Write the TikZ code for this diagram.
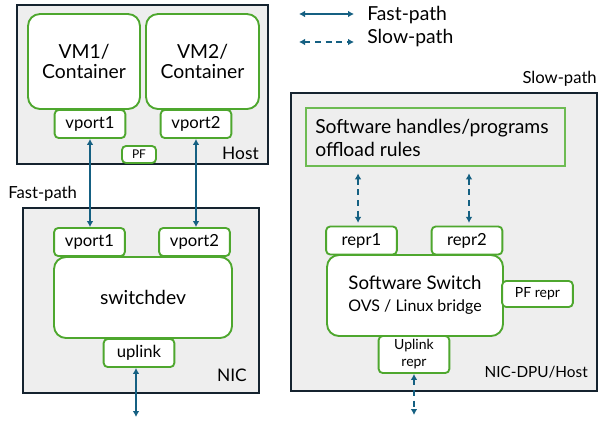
\documentclass[tikz,border=0pt]{standalone}
\usepackage{fontspec}
\setmainfont{Lato}
\usetikzlibrary{arrows.meta}

\definecolor{boxgray}{HTML}{EEEEEE}
\definecolor{edgenavy}{HTML}{15232F}
\definecolor{portgreen}{HTML}{4EA72E}
\definecolor{rulegreen}{HTML}{6DBB52}
\definecolor{pathblue}{HTML}{156082}

\begin{document}
\begin{tikzpicture}[%
        x = 0.75pt, y = -0.75pt,
        > = {Latex[length = 4.5pt, width = 5pt]},
        area/.style = {%
            draw = edgenavy, fill = boxgray,
            line width = 1.5pt, inner sep = 0pt
        },
        guest/.style = {%
            draw = portgreen, fill = white, line width = 1.4pt,
            rounded corners = 9pt, align = center, inner sep = 0pt
        },
        port/.style = {%
            draw = portgreen, fill = white, line width = 1.4pt,
            rounded corners = 3pt, inner sep = 0pt,
            minimum width = 53pt, minimum height = 21pt,
            font = \fontsize{12.5}{14}\selectfont
        },
        tag/.style = {inner sep = 0pt, font = \fontsize{13}{15}\selectfont},
        fast/.style = {<->, draw = pathblue, line width = 1.2pt},
        slow/.style = {fast, dash pattern = on 4.5pt off 3.5pt}
    ]
        \useasboundingbox (0, 0) rectangle (599, 422);

        % Outer boxes.
        \node[area, minimum width = 188.25pt, minimum height = 119.25pt] (host) at (142.5, 84.5) {};
        \node[area, minimum width = 177pt, minimum height = 138.75pt] (nic) at (141, 300.5) {};
        \node[area, minimum width = 229.5pt, minimum height = 223.5pt] (dpu) at (444, 242) {};

        % Host side:
        \node[guest, minimum width = 84pt, minimum height = 71.25pt,
              font = \fontsize{14.5}{14.6}\selectfont] (vm1) at (84, 61.5) {VM1/\\Container};
        \node[guest, minimum width = 84.75pt, minimum height = 71.25pt,
              font = \fontsize{14.5}{14.6}\selectfont] (vm2) at (202.5, 61.5) {VM2/\\Container};
        \node[port] (hvport1) at (90, 124) {vport1};
        \node[port] (hvport2) at (196, 124) {vport2};
        \node[port, minimum width = 25.5pt, minimum height = 12.75pt,
              font = \fontsize{9}{10}\selectfont] (pf) at (139, 154.5) {PF};
        \node[tag, anchor = base east] (hostname) at (259, 159) {Host};

        % NIC side:
        \node[guest, minimum width = 133.5pt, minimum height = 60.75pt,
              font = \fontsize{14.5}{16}\selectfont] (switchdev) at (143, 297.5) {switchdev};
        \node[port] (nvport1) at (89.5, 242) {vport1};
        \node[port] (nvport2) at (194.5, 242) {vport2};
        \node[port] (uplink) at (139, 353) {uplink};
        \node[tag, anchor = base east] (nicname) at (247, 381) {NIC};
        \node[tag, anchor = base west, font = \fontsize{12.5}{14}\selectfont] (fastname) at (8, 198) {Fast-path};

        % DPU side:
        \node[draw = rulegreen, fill = boxgray, line width = 1pt,
              minimum width = 194.25pt, minimum height = 43.5pt] (rules) at (435.5, 137) {};
        \node[tag, anchor = west, align = left,
              font = \fontsize{14.5}{17.25}\selectfont] (rulestext) at (315, 137.5)
            {Software handles/programs\\offload rules};
        \node[guest, minimum width = 132pt, minimum height = 60.75pt,
              font = \fontsize{14}{16.5}\selectfont] (swswitch) at (415, 295.5)
            {Software Switch\\{\fontsize{12}{13}\selectfont OVS / Linux bridge}};
        \node[port] (repr1) at (361.5, 240.5) {repr1};
        \node[port] (repr2) at (467, 240.5) {repr2};
        \node[port, minimum height = 19.5pt, font = \fontsize{10.5}{12}\selectfont] (pfrepr) at (537.5, 294) {PF repr};
        \node[port, minimum height = 27.75pt, align = center,
              font = \fontsize{10.5}{12.75}\selectfont] (uplinkrepr) at (414, 354.5) {Uplink\\repr};
        \node[tag, anchor = base east, font = \fontsize{11.5}{13}\selectfont] (dpuname) at (588, 377) {NIC-DPU/Host};
        \node[tag, anchor = base east, font = \fontsize{12.5}{14}\selectfont] (slowname) at (597, 83) {Slow-path};

        % Fast-path links.
        \coordinate (nicwire) at (136, 417);
        \draw[fast] (hvport1.south) to (hvport1.south |- nvport1.north);
        \draw[fast] (hvport2.south) to (hvport2.south |- nvport2.north);
        \draw[fast] (uplink.south -| nicwire) to (nicwire);

        % Slow-path links.
        \coordinate (dpuwire) at (414, 415);
        \coordinate (repr1top) at ([xshift = -2.6pt] repr1.north);
        \coordinate (repr2top) at ([xshift = 1.5pt] repr2.north);
        \draw[slow, shorten < = 5pt, shorten > = 2pt] (rules.south -| repr1top) to (repr1top);
        \draw[slow, shorten < = 5pt, shorten > = 2pt] (rules.south -| repr2top) to (repr2top);
        \draw[slow] (uplinkrepr.south) to (uplinkrepr.south |- dpuwire);

        % Legend:
        \coordinate (fastL) at (299, 14);
        \coordinate (fastR) at (354, 14);
        \coordinate (slowL) at (299, 42);
        \coordinate (slowR) at (354, 42);
        \draw[fast] (fastL) to (fastR);
        \draw[slow] (slowL) to (slowR);
        \node[tag, anchor = base west, font = \fontsize{14.5}{16}\selectfont] (fastkey) at (367, 20) {Fast-path};
        \node[tag, anchor = base west, font = \fontsize{14.5}{16}\selectfont] (slowkey) at (367, 43) {Slow-path};
    \end{tikzpicture}
\end{document}
